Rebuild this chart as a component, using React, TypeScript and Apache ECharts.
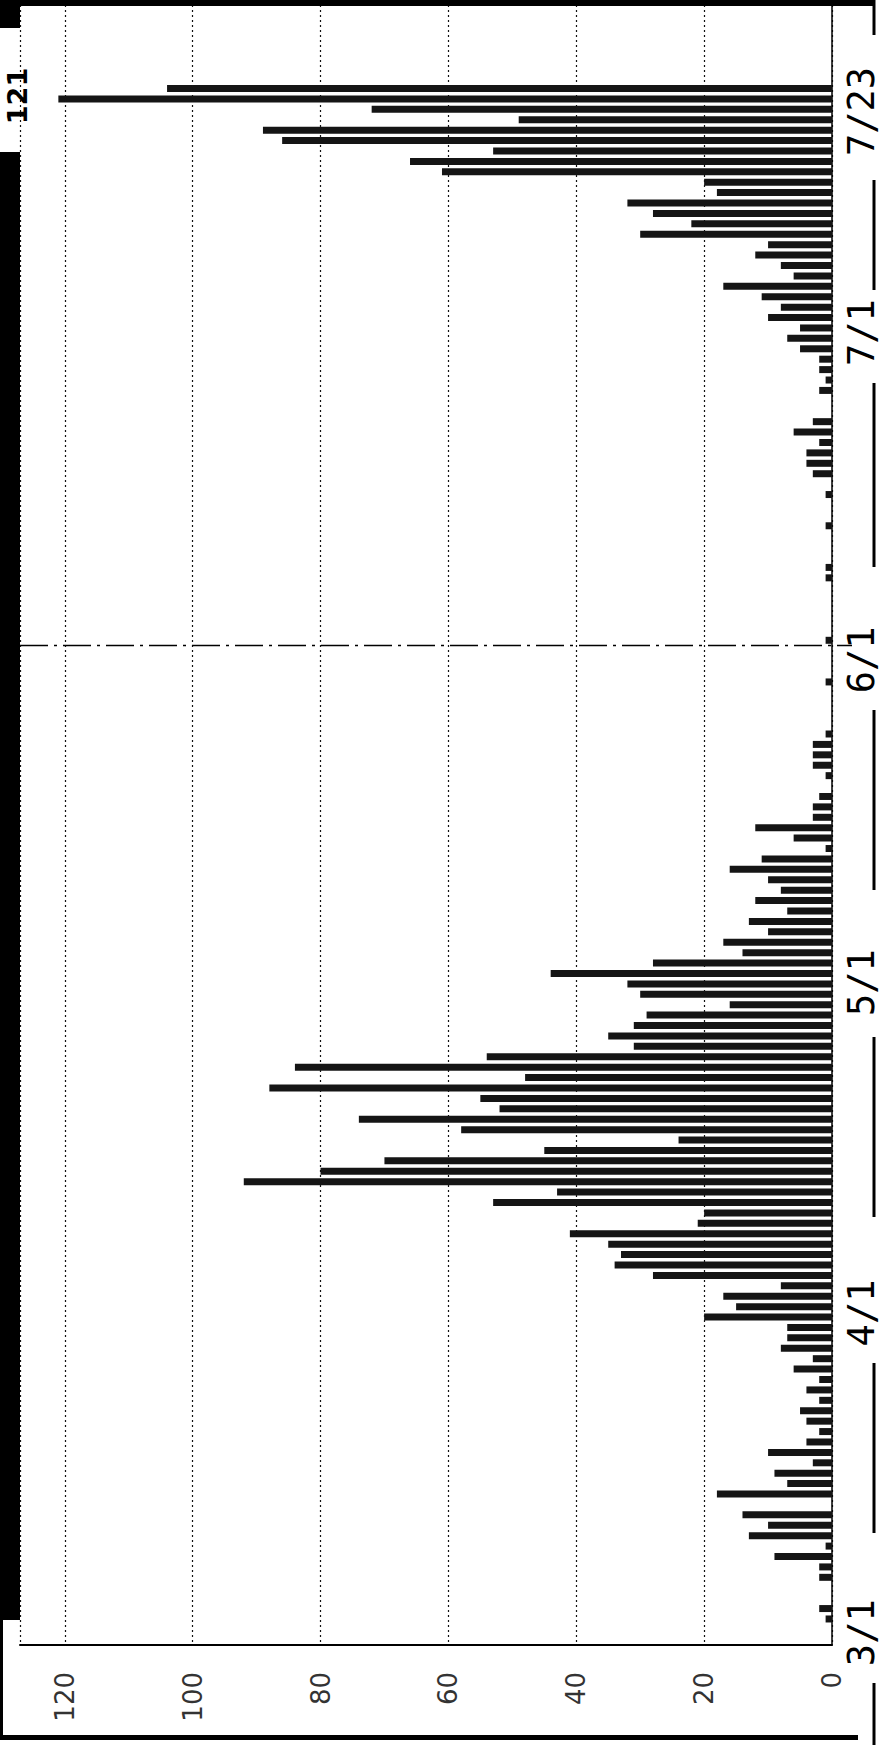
import React, { useEffect, useRef } from "react";
import * as echarts from "echarts";

// Month spans shown on the category axis: [month, firstDay, lastDay]
const monthSpans: [number, number, number][] = [
  [2, 25, 29],
  [3, 1, 31],
  [4, 1, 30],
  [5, 1, 31],
  [6, 1, 30],
  [7, 1, 31],
];

// Daily new cases
const febValues = [null, null, 1, 2, 0]; // 2/25 - 2/29
const marValues = [0, 2, 2, 9, 1, 13, 10, 14, 0, 18, 7, 9, 3, 10, 4, 2, 4, 5, 2, 4, 2, 6, 3, 8, 7, 7, 20, 15, 17, 8, 28];
const aprValues = [34, 33, 35, 41, 21, 20, 53, 43, 92, 80, 70, 45, 24, 58, 74, 52, 55, 88, 48, 84, 54, 31, 35, 31, 29, 16, 30, 32, 44, 28];
const mayValues = [14, 17, 10, 13, 7, 12, 8, 10, 16, 11, 1, 6, 12, 3, 3, 2, 0, 1, 3, 3, 3, 1, 0, 0, 0, 0, 1, 0, 0, 0, 1];
const junValues = [0, 0, 0, 0, 0, 1, 1, 0, 0, 0, 1, 0, 0, 1, 0, 3, 4, 4, 2, 6, 3, 0, 0, 2, 1, 2, 2, 5, 7, 5];
const julValues = [10, 8, 11, 17, 6, 8, 12, 10, 30, 22, 28, 32, 18, 20, 61, 66, 53, 86, 89, 49, 72, 121, 104, null, null, null, null, null, null, null, null];

const valueTicks = [0, 20, 40, 60, 80, 100, 120];
const dateTicks = ["3/1", "4/1", "5/1", "6/1", "7/1", "7/23"];
// label shift (px, downward along the axis) of each date label
const dateLabelShift = [45, 48, 30, 30, 15, 23];
const headerText = "121";

const categories: string[] = [];
monthSpans.forEach(([m, a, b]) => {
  for (let d = a; d <= b; d++) categories.push(`${m}/${d}`);
});
const values: (number | null)[] = [
  ...febValues,
  ...marValues,
  ...aprValues,
  ...mayValues,
  ...junValues,
  ...julValues,
];

export default function App() {
  const ref = useRef<HTMLDivElement>(null);

  useEffect(() => {
    if (!ref.current) return;
    const chart = echarts.init(ref.current, null, { renderer: "svg" });

    const rich: Record<string, any> = {};
    dateTicks.forEach((_d, i) => {
      rich["p" + i] = {
        fontSize: 37,
        fontFamily: "DejaVu Sans Mono",
        color: "#000",
        padding: [0, dateLabelShift[i] * 2, 0, 0],
      };
    });

    chart.setOption({
      animation: false,
      backgroundColor: "#fff",
      textStyle: { fontFamily: "DejaVu Sans" },
      grid: { left: 20, right: 51, top: 0, bottom: 100, containLabel: false },
      xAxis: {
        type: "value",
        inverse: true,
        min: 0,
        max: 127,
        interval: 20,
        position: "bottom",
        axisLine: { show: true, onZero: false, lineStyle: { color: "#000", width: 2 } },
        axisTick: { show: false },
        splitLine: { show: true, lineStyle: { color: "#111", width: 1.2, type: [2, 3] } },
        axisLabel: {
          rotate: 90,
          align: "right",
          verticalAlign: "middle",
          margin: 27,
          fontSize: 26,
          fontFamily: "DejaVu Sans",
          color: "#333",
          formatter: (v: number) => (valueTicks.includes(v) ? String(v) : ""),
        },
      },
      yAxis: {
        type: "category",
        data: categories,
        position: "right",
        axisLine: { show: true, onZero: false, lineStyle: { color: "#000", width: 1.5 } },
        axisTick: { show: false },
        splitLine: { show: false },
        axisLabel: {
          interval: (_i: number, v: string) => dateTicks.includes(v),
          rotate: 90,
          align: "center",
          verticalAlign: "middle",
          margin: 29,
          fontSize: 37,
          fontFamily: "DejaVu Sans Mono",
          color: "#000",
          formatter: (v: string) => {
            const k = dateTicks.indexOf(v);
            return k >= 0 ? `{p${k}|${v}}` : "";
          },
          rich,
        },
      },
      series: [
        {
          type: "bar",
          data: values,
          barWidth: 7,
          itemStyle: { color: "#151515" },
        },
      ],
    });

    const y1 = chart.convertToPixel({ yAxisIndex: 0 }, "5/30") as number;
    const y2 = chart.convertToPixel({ yAxisIndex: 0 }, "5/31") as number;
    const yDash = (y1 + y2) / 2;

    const ruleSegments: [number, number][] = [
      [0, 35],
      [180, 290],
      [383, 567],
      [710, 890],
      [1037, 1217],
      [1363, 1533],
      [1683, 1745],
    ];

    chart.setOption({
      graphic: [
        { type: "rect", z: 100, shape: { x: 0, y: 0, width: 874, height: 6 }, style: { fill: "#000" } },
        { type: "rect", z: 100, shape: { x: 0, y: 0, width: 20, height: 28 }, style: { fill: "#000" } },
        { type: "rect", z: 100, shape: { x: 0, y: 152, width: 20, height: 1468 }, style: { fill: "#000" } },
        { type: "rect", z: 100, shape: { x: 0, y: 1620, width: 3, height: 120 }, style: { fill: "#000" } },
        { type: "rect", z: 100, shape: { x: 0, y: 1735, width: 858, height: 5 }, style: { fill: "#000" } },
        ...ruleSegments.map(([a, b]) => ({
          type: "rect",
          z: 100,
          shape: { x: 872.5, y: a, width: 3, height: b - a },
          style: { fill: "#000" },
        })),
        {
          type: "line",
          z: 100,
          shape: { x1: 20, y1: yDash, x2: 852, y2: yDash },
          style: { stroke: "#000", lineWidth: 1.5, lineDash: [28, 6, 3, 6] },
        },
        {
          type: "text",
          z: 100,
          x: 17,
          y: 96,
          rotation: Math.PI / 2,
          style: {
            text: headerText,
            fontSize: 27,
            fontWeight: "bold",
            fontFamily: "DejaVu Sans",
            fill: "#000",
            align: "center",
            verticalAlign: "middle",
          },
        },
      ],
    });

    return () => chart.dispose();
  }, []);

  return (
    <div
      ref={ref}
      style={{ position: "absolute", left: 0, top: 0, width: 883, height: 1745, background: "#fff" }}
    />
  );
}
